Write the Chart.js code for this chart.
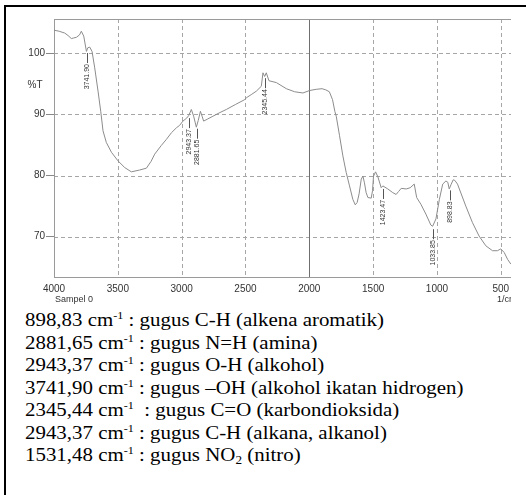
<!DOCTYPE html>
<html>
<head>
<meta charset="utf-8">
<script src="https://cdn.jsdelivr.net/npm/chart.js@4.4.0/dist/chart.umd.min.js"></script>
<style>
  html, body { margin: 0; background: #fff; overflow: hidden; width: 526px; height: 495px; }
  #frame { position: absolute; left: 4px; top: 5px; right: 0; bottom: 0; border-left: 2px solid #000; border-top: 2px solid #000; }
  #wrap { position: absolute; left: 0; top: 0; width: 526px; height: 305px; }
  #notes { position: absolute; left: 25px; top: 309px; font-family: "Liberation Serif", "Times New Roman", serif;
           font-size: 19px; line-height: 22.5px; color: #000; transform: scaleX(1.1); transform-origin: 0 0; }
  #notes div { white-space: pre; height: 22.5px; }
  .sup { font-size: 11px; position: relative; top: -7px; }
  .sub { font-size: 12px; position: relative; top: 3px; }
</style>
</head>
<body>
<div id="frame"></div>
<div id="wrap"><canvas id="irChart" width="526" height="305"></canvas></div>
<div id="notes"><div>898,83 cm<span class="sup">-1</span> : gugus C-H (alkena aromatik)</div><div>2881,65 cm<span class="sup">-1</span> : gugus N=H (amina)</div><div>2943,37 cm<span class="sup">-1</span> : gugus O-H (alkohol)</div><div>3741,90 cm<span class="sup">-1</span> : gugus –OH (alkohol ikatan hidrogen)</div><div>2345,44 cm<span class="sup">-1</span>  : gugus C=O (karbondioksida)</div><div>2943,37 cm<span class="sup">-1</span> : gugus C-H (alkana, alkanol)</div><div>1531,48 cm<span class="sup">-1</span> : gugus NO<span class="sub">2</span> (nitro)</div></div>
<script>
// spectrum (1/cm, %T)
const wavenumber = [
  4000, 3995, 3960, 3916, 3890, 3864, 3845, 3825, 3800, 3786, 3767, 3746, 3735, 3720, 3702,
  3681, 3655, 3634, 3616, 3590, 3550, 3499, 3446, 3394, 3329, 3276, 3240, 3211, 3160, 3120,
  3080, 3041, 3016, 2990, 2960, 2945, 2924, 2906, 2885, 2870, 2853, 2840, 2828, 2800, 2755,
  2700, 2650, 2580, 2507, 2494, 2450, 2415, 2376, 2363, 2350, 2337, 2316, 2258, 2180, 2115,
  2050, 1998, 1946, 1900, 1870, 1843, 1818, 1800, 1789, 1763, 1737, 1711, 1685, 1659, 1640,
  1625, 1610, 1593, 1580, 1568, 1555, 1541, 1515, 1505, 1497, 1481, 1463, 1437, 1424, 1385,
  1346, 1320, 1300, 1280, 1241, 1210, 1178, 1159, 1126, 1087, 1048, 1034, 1008, 981, 955,
  930, 915, 904, 890, 873, 860, 839, 774, 722, 670, 617, 565, 526, 500, 473, 447, 421
];
const transmittance = [
  103.8, 103.75, 103.6, 103.3, 102.9, 102.4, 102.5, 102.6, 103.0, 103.6, 102.8, 100.3, 100.9, 101.0, 100.3,
  97.6, 93.8, 90.5, 87.3, 85.4, 83.8, 82.4, 81.3, 80.6, 80.9, 81.2, 82.3, 83.5, 84.9, 85.9,
  87.0, 87.8, 88.2, 88.9, 89.4, 89.8, 90.8, 89.7, 87.9, 89.0, 90.5, 89.7, 88.9, 89.2, 89.7,
  90.3, 90.8, 91.6, 92.4, 92.7, 93.3, 93.8, 94.6, 96.8, 96.2, 96.8, 95.5, 95.2, 94.2, 93.7,
  93.5, 93.9, 94.1, 94.2, 94.0, 93.7, 92.4, 90.5, 89.7, 86.5, 83.2, 80.5, 78.3, 76.1, 75.2,
  75.6, 77.0, 79.4, 79.9, 78.8, 77.2, 76.4, 76.3, 77.5, 79.9, 80.6, 79.8, 78.0, 78.3, 77.8,
  77.2, 76.9, 77.4, 77.9, 77.8, 78.0, 78.6, 76.4, 75.3, 73.7, 71.9, 71.7, 72.9, 76.1, 78.6,
  79.1, 78.9, 77.8, 78.5, 79.3, 79.2, 78.6, 75.0, 72.3, 70.1, 68.5, 67.7, 67.7, 68.0, 67.4, 66.3, 65.5
];
const xTicks = [4000, 3500, 3000, 2500, 2000, 1500, 1000, 500];
const yTicks = [70, 80, 90, 100];
const peakWn = [3741.90, 2943.37, 2881.65, 2345.44, 1423.47, 1033.85, 898.83];
const peakLabels = ['3741.90', '2943.37', '2881.65', '2345.44', '1423.47', '1033.85', '898.83'];

const points = wavenumber.map((w, i) => ({ x: w, y: transmittance[i] }));

function valueAt(wn) {
  for (let i = 0; i < wavenumber.length - 1; i++) {
    const a = wavenumber[i], b = wavenumber[i + 1];
    if (wn <= a && wn >= b) {
      const t = (a - wn) / (a - b);
      return transmittance[i] + t * (transmittance[i + 1] - transmittance[i]);
    }
  }
  return transmittance[transmittance.length - 1];
}

const gridLines = {
  id: 'gridLines',
  beforeDatasetsDraw(chart) {
    const { ctx, chartArea: a, scales: { x, y } } = chart;
    const seg = (x1, y1, x2, y2) => { ctx.beginPath(); ctx.moveTo(x1, y1); ctx.lineTo(x2, y2); ctx.stroke(); };
    ctx.save();
    ctx.lineWidth = 1;
    ctx.strokeStyle = '#a6a6a6';
    ctx.setLineDash([4, 3]);
    yTicks.forEach(v => {
      const py = Math.round(y.getPixelForValue(v)) + 0.5;
      seg(a.left, py, a.right, py);
    });
    xTicks.forEach(v => {
      if (v === 2000) return;
      const px = Math.round(x.getPixelForValue(v)) + 0.5;
      seg(px, a.top, px, a.bottom);
    });
    ctx.setLineDash([]);
    ctx.strokeStyle = '#707070';
    const p2 = Math.round(x.getPixelForValue(2000)) + 0.5;
    seg(p2, a.top, p2, a.bottom);
    ctx.strokeStyle = '#9a9a9a';
    const top = Math.round(a.top) + 0.5, bot = Math.round(a.bottom) + 0.5, left = Math.round(a.left) + 0.5;
    seg(a.left, top, a.right, top);
    seg(a.left, bot, a.right, bot);
    seg(left, a.top, left, a.bottom);
    ctx.restore();
  }
};

const peakMarks = {
  id: 'peakMarks',
  afterDatasetsDraw(chart) {
    const { ctx, scales: { x, y } } = chart;
    ctx.save();
    ctx.strokeStyle = '#555';
    ctx.fillStyle = '#333';
    ctx.lineWidth = 1;
    ctx.font = '7px "Liberation Sans", Arial, sans-serif';
    peakWn.forEach((w, i) => {
      const px = Math.round(x.getPixelForValue(w)) + 0.5;
      const py = y.getPixelForValue(valueAt(w)) + 3;
      ctx.beginPath(); ctx.moveTo(px, py); ctx.lineTo(px, py + 10); ctx.stroke();
      ctx.save();
      ctx.translate(px, py + 11);
      ctx.rotate(-Math.PI / 2);
      ctx.textAlign = 'right';
      ctx.textBaseline = 'middle';
      ctx.fillText(peakLabels[i], 0, 0);
      ctx.restore();
    });
    ctx.restore();
  },
  afterDraw(chart) {
    const { ctx, chartArea: a } = chart;
    ctx.save();
    ctx.fillStyle = '#333';
    ctx.font = '10px "Liberation Sans", Arial, sans-serif';
    ctx.textAlign = 'center';
    ctx.textBaseline = 'middle';
    ctx.fillText('%T', 35, 85);
    ctx.font = '9px "Liberation Sans", Arial, sans-serif';
    ctx.textAlign = 'left';
    ctx.fillText('Sampel 0', 55, 300);
    ctx.beginPath(); ctx.rect(0, 0, a.right, chart.height); ctx.clip();
    ctx.fillText('1/cm', 497, 300);
    ctx.restore();
  }
};

new Chart(document.getElementById('irChart').getContext('2d'), {
  type: 'scatter',
  data: {
    datasets: [{
      data: points,
      showLine: true,
      borderColor: '#8c8c8c',
      borderWidth: 1,
      pointRadius: 0,
      tension: 0
    }]
  },
  options: {
    responsive: false,
    animation: false,
    events: [],
    layout: { padding: { left: 0, top: 19, right: 15, bottom: 0 } },
    plugins: { legend: { display: false }, tooltip: { enabled: false } },
    scales: {
      x: {
        type: 'linear',
        reverse: true,
        min: 420,
        max: 4000,
        afterFit(s) { s.height = 28; },
        afterBuildTicks(s) { s.ticks = xTicks.map(v => ({ value: v })); },
        grid: { display: false, drawTicks: false },
        border: { display: false },
        ticks: { color: '#333', padding: 6, maxRotation: 0, autoSkip: false,
                 callback: v => String(v),
                 font: { family: '"Liberation Sans", Arial, sans-serif', size: 10 } }
      },
      y: {
        min: 63.4,
        max: 105.6,
        afterFit(s) { s.width = 54; },
        afterBuildTicks(s) { s.ticks = yTicks.map(v => ({ value: v })); },
        grid: { drawOnChartArea: false, drawTicks: true, tickLength: 8, tickColor: '#888' },
        border: { display: false },
        ticks: { color: '#333', padding: 1, callback: v => String(v),
                 font: { family: '"Liberation Sans", Arial, sans-serif', size: 10 } }
      }
    }
  },
  plugins: [gridLines, peakMarks]
});
</script>
</body>
</html>
